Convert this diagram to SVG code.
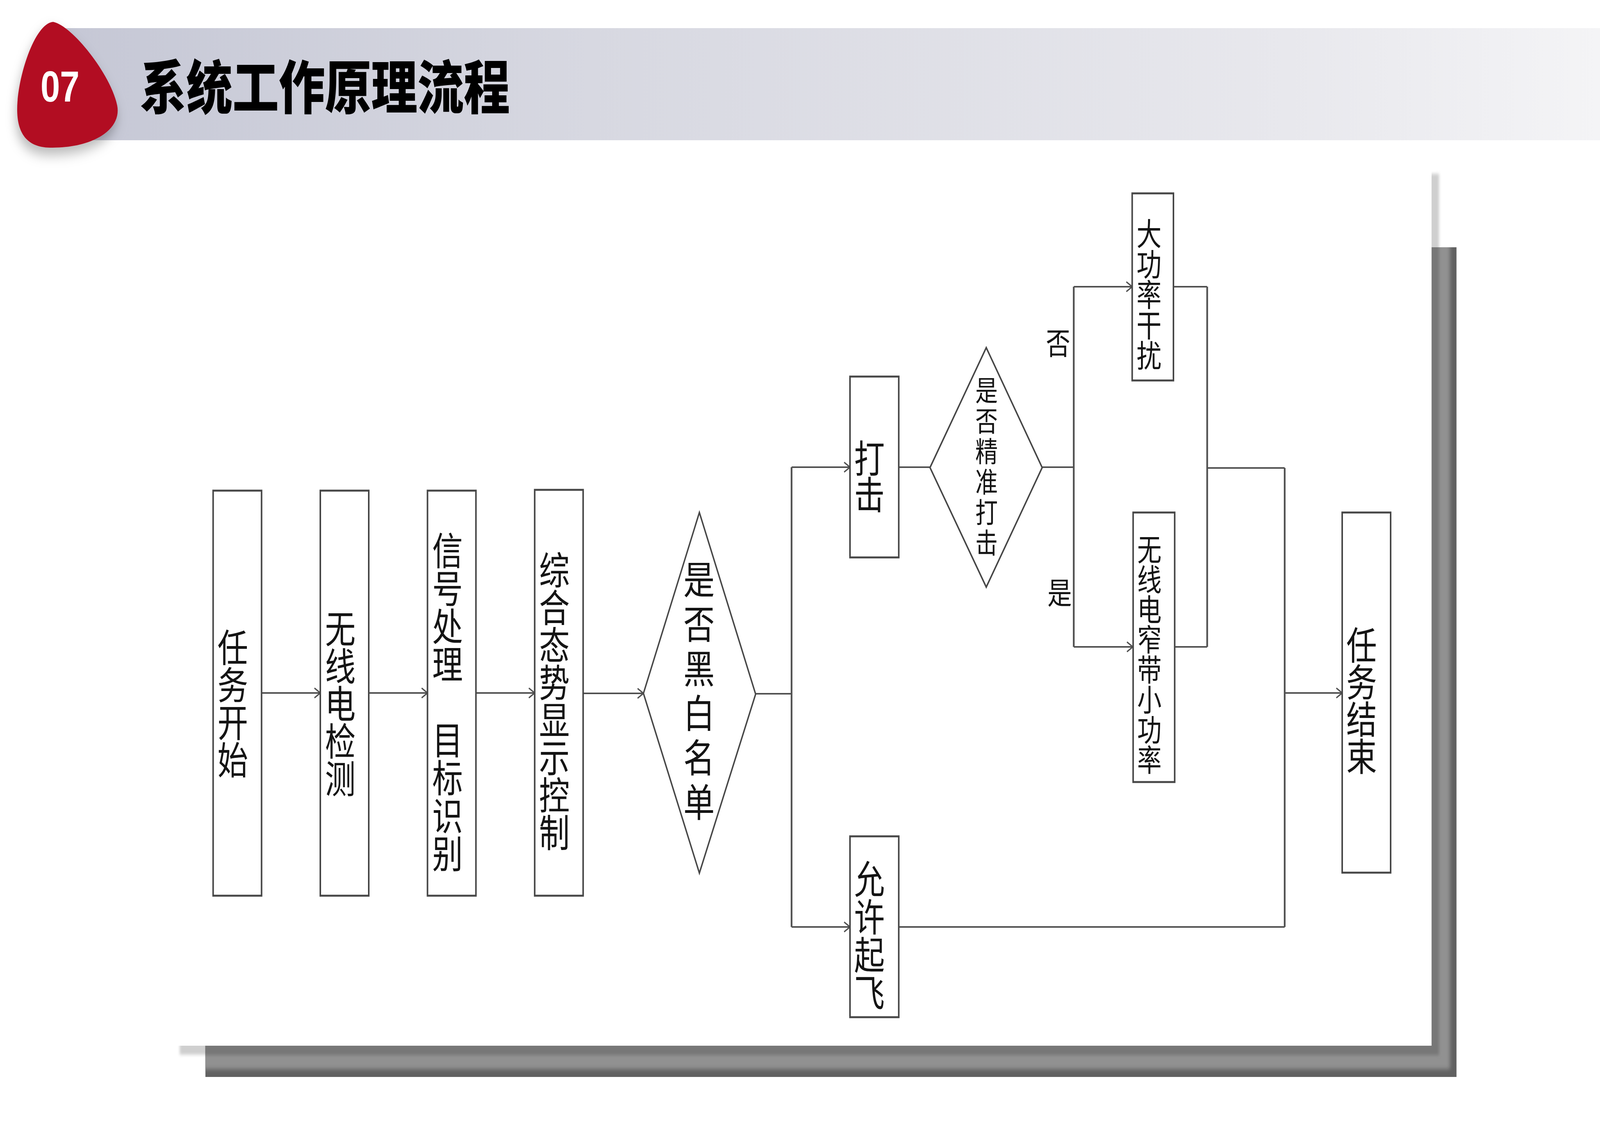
<svg xmlns="http://www.w3.org/2000/svg" width="5120" height="2880" viewBox="0 0 5120 2880" preserveAspectRatio="none" style="width:100vw;height:100vh;display:block">
<style>
.box{fill:#fff;stroke:#474747;stroke-width:5}
.dia{fill:#fff;stroke:#474747;stroke-width:4.5}
.t{font-family:"Noto Sans CJK SC","Noto Sans",sans-serif;fill:#141414;text-anchor:middle}
.vt{font-family:"Noto Sans CJK SC","Noto Sans",sans-serif;fill:#141414;text-anchor:middle;writing-mode:vertical-rl;dominant-baseline:central}
.h{fill:none;stroke:#505050;stroke-width:4}
.v{fill:none;stroke:#505050;stroke-width:5.5}
.arr{marker-end:url(#ah)}
</style>
<defs>
<linearGradient id="band" x1="0" y1="0" x2="1" y2="0">
<stop offset="0" stop-color="#c5c7d5"/>
<stop offset="0.35" stop-color="#d7d8e1"/>
<stop offset="0.8" stop-color="#e8e8ed"/>
<stop offset="1" stop-color="#f4f4f6"/>
</linearGradient>
<filter id="dropSh" x="-30%" y="-30%" width="160%" height="170%">
<feDropShadow dx="-4" dy="18" stdDeviation="16" flood-color="#000" flood-opacity="0.28"/>
</filter>
<filter id="b4" x="-5%" y="-5%" width="110%" height="110%"><feGaussianBlur stdDeviation="4"/></filter>
<filter id="b6" x="-5%" y="-5%" width="110%" height="110%"><feGaussianBlur stdDeviation="6"/></filter>
<clipPath id="shClip"><rect x="657" y="633" width="4004" height="2124"/></clipPath>
<marker id="ah" markerUnits="userSpaceOnUse" markerWidth="30" markerHeight="30" viewBox="-2 -12 20 24" refX="15" refY="0" orient="auto">
<path d="M0,-10 L15,0 L0,10" fill="none" stroke="#505050" stroke-width="3"/>
</marker>
</defs>

<rect width="5120" height="2880" fill="#fff"/>

<g id="header">
<rect x="150" y="72" width="4970" height="287" fill="url(#band)"/>
<path d="M170,56 C230,65 355,190 375,270 C390,330 300,380 160,378 C85,377 55,340 55,280 C55,200 110,60 170,56 Z" fill="#b20e23" filter="url(#dropSh)"/>
<text x="192" y="260" font-family="'Liberation Sans',Arial,sans-serif" font-weight="bold" font-size="112" fill="#fff" text-anchor="middle">07</text>
<text x="448" y="278" font-family="'Noto Sans CJK SC',sans-serif" font-weight="900" font-size="148" fill="#000">系统工作原理流程</text>
</g>

<g id="panel">
<rect x="575" y="445" width="4030" height="2255" fill="#cfcfcf" filter="url(#b4)"/>
<g clip-path="url(#shClip)">
<rect x="657" y="633" width="4004" height="2124" fill="#616161"/>
<rect x="600" y="580" width="4040" height="2157" fill="#919191" filter="url(#b6)"/>
<rect x="600" y="580" width="4005" height="2121" fill="#777" filter="url(#b4)"/>
</g>
<rect x="563" y="433" width="4018" height="2244" fill="#fff"/>
</g>

<g id="connectors">
<line class="h arr" x1="838" y1="1774" x2="1025" y2="1774"/>
<line class="h arr" x1="1182" y1="1774" x2="1368" y2="1774"/>
<line class="h arr" x1="1524" y1="1774" x2="1711" y2="1774"/>
<line class="h arr" x1="1866" y1="1775" x2="2059" y2="1775"/>
<line class="h" x1="2418" y1="1776" x2="2533" y2="1776"/>
<line class="v" x1="2533" y1="1196" x2="2533" y2="2373"/>
<line class="h arr" x1="2533" y1="1196" x2="2720" y2="1196"/>
<line class="h arr" x1="2533" y1="2373" x2="2720" y2="2373"/>
<line class="h" x1="2876" y1="1196" x2="2976" y2="1196"/>
<line class="h" x1="3335" y1="1196" x2="3436" y2="1196"/>
<line class="v" x1="3436" y1="734" x2="3436" y2="1656"/>
<line class="h arr" x1="3436" y1="734" x2="3623" y2="734"/>
<line class="h arr" x1="3436" y1="1656" x2="3625" y2="1656"/>
<line class="h" x1="3755" y1="734" x2="3863" y2="734"/>
<line class="h" x1="3759" y1="1656" x2="3863" y2="1656"/>
<line class="v" x1="3863" y1="734" x2="3863" y2="1656"/>
<line class="h" x1="3863" y1="1198" x2="4111" y2="1198"/>
<line class="v" x1="4111" y1="1198" x2="4111" y2="2373"/>
<line class="h" x1="2876" y1="2373" x2="4111" y2="2373"/>
<line class="h arr" x1="4111" y1="1774" x2="4295" y2="1774"/>
<text class="t" font-size="78" x="3386" y="908">否</text>
<text class="t" font-size="78" x="3391" y="1547">是</text>
</g>

<g id="n1">
<rect class="box" x="682" y="1256" width="155" height="1037"/>
<text class="vt" x="745" y="1800" font-size="98" letter-spacing="-2">任务开始</text>
</g>
<g id="n2">
<rect class="box" x="1025" y="1256" width="155" height="1037"/>
<text class="vt" x="1089" y="1800" font-size="98" letter-spacing="-2">无线电检测</text>
</g>
<g id="n3">
<rect class="box" x="1368" y="1256" width="155" height="1037"/>
<text class="vt" x="1432" y="1796" font-size="98" letter-spacing="-1">信号处理　目标识别</text>
</g>
<g id="n4">
<rect class="box" x="1711" y="1254" width="155" height="1039"/>
<text class="vt" x="1774" y="1794" font-size="98" letter-spacing="-2">综合态势显示控制</text>
</g>
<g id="d1">
<polygon class="dia" points="2059,1775 2238,1312 2418,1777 2238,2235"/>
<text class="vt" x="2237" y="1775" font-size="100" letter-spacing="14">是否黑白名单</text>
</g>
<g id="n5">
<rect class="box" x="2720" y="964" width="156" height="463"/>
<text class="vt" x="2782" y="1217" font-size="98" letter-spacing="-5">打击</text>
</g>
<g id="n6">
<rect class="box" x="2720" y="2141" width="156" height="463"/>
<text class="vt" x="2782" y="2395" font-size="98" letter-spacing="-1">允许起飞</text>
</g>
<g id="d2">
<polygon class="dia" points="2976,1197 3156,890 3335,1197 3156,1503"/>
<text class="vt" x="3157" y="1197" font-size="72" letter-spacing="6">是否精准打击</text>
</g>
<g id="n7">
<rect class="box" x="3623" y="495" width="132" height="479"/>
<text class="vt" x="3677" y="753" font-size="80" letter-spacing="-2">大功率干扰</text>
</g>
<g id="n8">
<rect class="box" x="3626" y="1312" width="133" height="690"/>
<text class="vt" x="3678" y="1675" font-size="78" letter-spacing="-1">无线电窄带小功率</text>
</g>
<g id="n9">
<rect class="box" x="4295" y="1312" width="155" height="922"/>
<text class="vt" x="4357" y="1792" font-size="98" letter-spacing="-3">任务结束</text>
</g>
</svg>
